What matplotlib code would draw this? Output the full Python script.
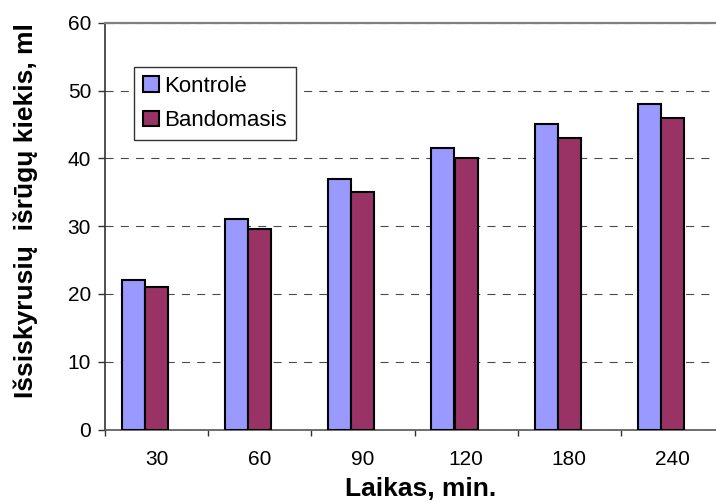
import numpy as np
import matplotlib.pyplot as plt

plt.rcParams['font.family'] = ['Liberation Sans', 'DejaVu Sans']
plt.rcParams['lines.scale_dashes'] = False

# duomenys
laikas = ['30', '60', '90', '120', '180', '240']
kontrole = [22, 31, 37, 41.5, 45, 48]
bandomasis = [21, 29.5, 35, 40, 43, 46]

fig = plt.figure(figsize=(7.16, 5.04), dpi=100)
# plotas truputi iseina uz desinio krasto
ax = fig.add_axes([105 / 716, 74.5 / 504, 619 / 716, 406.8 / 504])

x = np.arange(len(laikas))
w = 0.223
ax.bar(x - 0.225, kontrole, width=w, color='#9999FF', edgecolor='black',
       linewidth=1.5, label='Kontrolė', zorder=3)
ax.bar(x, bandomasis, width=w, color='#993366', edgecolor='black',
       linewidth=1.5, label='Bandomasis', zorder=3)

ax.set_xlim(-0.5, 5.5)
ax.set_ylim(0, 60)
ax.set_yticks(range(0, 61, 10))
ax.yaxis.grid(True, linestyle=(0, (5.8, 5.2)), color='#4a4a4a', linewidth=0.8)
ax.set_axisbelow(True)

# ziuros tarp kategoriju, uzrasai per viduri
ax.set_xticks(np.arange(-0.5, 6, 1))
ax.set_xticklabels([])
ax.set_xticks(x, minor=True)
ax.set_xticklabels(laikas, minor=True)
ax.tick_params(axis='x', which='major', length=4.5, width=1, color='#333333', direction='out')
ax.tick_params(axis='x', which='minor', length=0, pad=14.5, labelsize=15)
ax.tick_params(axis='y', length=5, width=1, color='#333333', direction='out', pad=5, labelsize=15)

ax.spines['right'].set_visible(False)
ax.spines['top'].set_color('#808080')
ax.spines['top'].set_linewidth(1.6)
ax.spines['left'].set_color('#333333')
ax.spines['left'].set_linewidth(1.2)
ax.spines['bottom'].set_color('#555555')
ax.spines['bottom'].set_linewidth(1.2)

ax.set_xlabel('Laikas, min.', fontsize=19, fontweight='bold')
ax.xaxis.set_label_coords(0.51, -0.117)
ax.set_ylabel('Išsiskyrusių  išrūgų kiekis, ml', fontsize=19, fontweight='bold')
ax.yaxis.set_label_coords(-0.108, 0.537)

leg = ax.legend(loc='upper left', bbox_to_anchor=(0.047, 0.891), borderaxespad=0,
                fontsize=16, fancybox=False, framealpha=1, edgecolor='#333333',
                handlelength=0.7, handleheight=0.7, handletextpad=0.25,
                borderpad=0.4, labelspacing=0.6)
leg.get_frame().set_linewidth(1.0)

fig.savefig('out.png', dpi=100)
